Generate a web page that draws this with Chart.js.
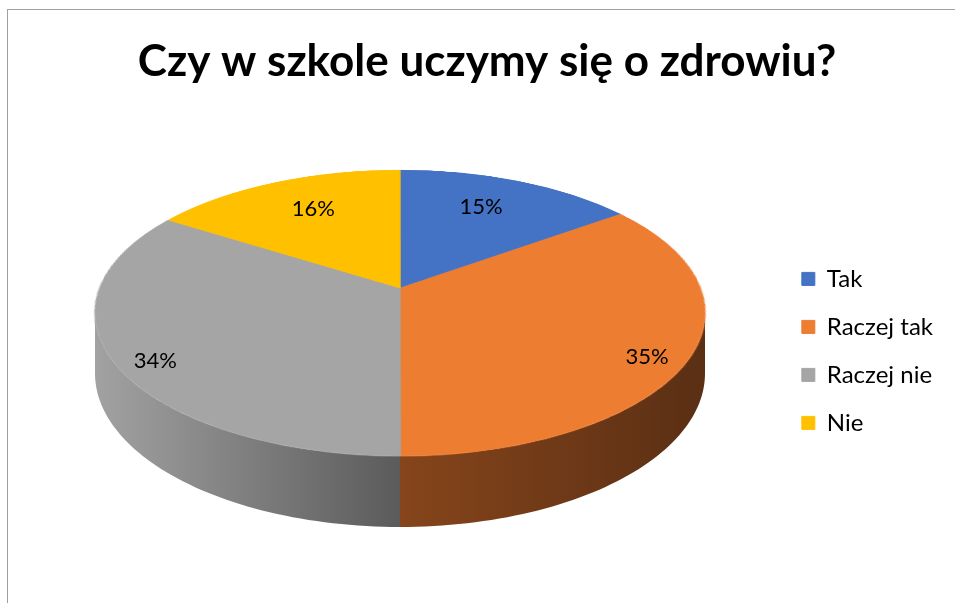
<!DOCTYPE html>
<html>
<head>
<meta charset="utf-8">
<script src="https://cdn.jsdelivr.net/npm/chart.js@4.4.1/dist/chart.umd.min.js"></script>
<style>
    html, body { margin: 0; padding: 0; background: #fff; overflow: hidden; }
    #frame {
        position: absolute; left: 7px; top: 9px; width: 960px; height: 620px;
        border-left: 1px solid #a0a0a0; border-top: 1px solid #a0a0a0;
    }
    #wrap { position: absolute; left: 8px; top: 10px; width: 958px; height: 600px; }
</style>
</head>
<body>
<div id="frame"></div>
<div id="wrap"><canvas id="chart" width="958" height="600"></canvas></div>
<script>
const chartTitle = "Czy w szkole uczymy się o zdrowiu?";
const categories = ["Tak", "Raczej tak", "Raczej nie", "Nie"];
const shares = [15, 35, 34, 16];

const topColors = ["#4472C4", "#ED7D31", "#A5A5A5", "#FFC000"];
const sideLight = ["#4a6aa8", "#86451b", "#a2a2a2", "#c09000"];
const sideDark = ["#2a4170", "#5a2f14", "#5b5b5b", "#806000"];

// tilted view of the pie (canvas coords): apex, half sizes, perspective, thickness
const VIEW = { x0: 392, y0: 278, a: 300.3, b: 138.6, k: 0.1748, h: 58.6 };

function project(u, v) {
    const d = 1 / (1 - VIEW.k * v);
    return [VIEW.x0 + VIEW.a * u * d, VIEW.y0 + VIEW.b * v * d, d];
}

const pie3d = {
    id: "pie3d",
    afterDatasetsDraw(chart) {
        const ctx = chart.ctx;
        const arcs = chart.getDatasetMeta(0).data;
        const a = arcs[0];
        const R = a.outerRadius;

        // grab the flat pie the library drew, then wipe it
        const size = Math.ceil(2 * R) + 6;
        const sx0 = Math.floor(a.x - R) - 3;
        const sy0 = Math.floor(a.y - R) - 3;
        const off = document.createElement("canvas");
        off.width = size;
        off.height = size;
        off.getContext("2d").drawImage(chart.canvas, sx0, sy0, size, size, 0, 0, size, size);
        ctx.clearRect(sx0, sy0, size, size);
        const ocx = a.x - sx0, ocy = a.y - sy0;

        // side walls (front part only)
        const lo = Math.asin(VIEW.k), hi = Math.PI - lo;
        arcs.forEach((arc, i) => {
            const a1 = Math.max(arc.startAngle, lo);
            const a2 = Math.min(arc.endAngle, hi);
            if (a2 <= a1) return;
            const top = [], bot = [];
            const n = 60;
            for (let j = 0; j <= n; j++) {
                const t = a1 + ((a2 - a1) * j) / n;
                const [x, y, d] = project(Math.cos(t), Math.sin(t));
                top.push([x, y]);
                bot.push([x, y + VIEW.h * d]);
            }
            const xs = top.map((p) => p[0]);
            const g = ctx.createLinearGradient(Math.min(...xs), 0, Math.max(...xs), 0);
            g.addColorStop(0, sideLight[i]);
            g.addColorStop(1, sideDark[i]);
            ctx.save();
            ctx.fillStyle = g;
            ctx.beginPath();
            top.forEach((p, j) => (j ? ctx.lineTo(p[0], p[1]) : ctx.moveTo(p[0], p[1])));
            bot.reverse().forEach((p) => ctx.lineTo(p[0], p[1]));
            ctx.closePath();
            ctx.fill();
            ctx.restore();
        });

        // top face: redraw the flat pie row by row in perspective
        const yTop = Math.floor(VIEW.y0 - VIEW.b / (1 + VIEW.k)) - 1;
        const yBot = Math.ceil(VIEW.y0 + VIEW.b / (1 - VIEW.k)) + 1;
        for (let y = yTop; y <= yBot; y++) {
            const t = (y + 0.5 - VIEW.y0) / VIEW.b;
            const v = t / (1 + VIEW.k * t);
            if (Math.abs(v) > 1.01) continue;
            const d = 1 / (1 - VIEW.k * v);
            const sh = R / VIEW.b / Math.pow(1 + VIEW.k * t, 2);
            const sy = ocy + v * R - sh / 2;
            const sc = (VIEW.a * d) / R;
            ctx.drawImage(off, 0, sy, size, sh, VIEW.x0 - ocx * sc, y, size * sc, 1);
        }

        // percentage labels
        const total = shares.reduce((s, v) => s + v, 0);
        ctx.save();
        ctx.fillStyle = "#000";
        ctx.font = "22px Lato";
        ctx.textAlign = "center";
        ctx.textBaseline = "middle";
        arcs.forEach((arc, i) => {
            const t = (arc.startAngle + arc.endAngle) / 2;
            const s = Math.sin(t), c = Math.cos(t);
            const x = VIEW.x0 + 305 * 0.8 * (1 + 0.3 * s) * c;
            const y = 303 + 143.5 * 0.78 * s - 6.5;
            ctx.fillText(Math.round((shares[i] / total) * 100) + "%", x, y);
        });
        ctx.restore();
    },
};

new Chart(document.getElementById("chart"), {
    type: "pie",
    data: {
        labels: categories,
        datasets: [
            {
                data: shares,
                backgroundColor: topColors,
                // same-colour border hides the light seams between slices
                borderColor: topColors,
                borderWidth: 1,
                clip: false,
            },
        ],
    },
    options: {
        responsive: false,
        animation: false,
        layout: { padding: { top: 0, right: 23, bottom: 36, left: 23 } },
        plugins: {
            title: {
                display: true,
                text: chartTitle,
                color: "#000",
                font: { family: "Lato", size: 44, weight: "bold" },
                padding: { top: 25, bottom: 40 },
            },
            legend: {
                position: "right",
                fullSize: false,
                labels: {
                    boxWidth: 13,
                    boxHeight: 13,
                    padding: 24,
                    color: "#000",
                    font: { family: "Lato", size: 24 },
                },
            },
            tooltip: { enabled: false },
        },
    },
    plugins: [pie3d],
});
</script>
</body>
</html>
